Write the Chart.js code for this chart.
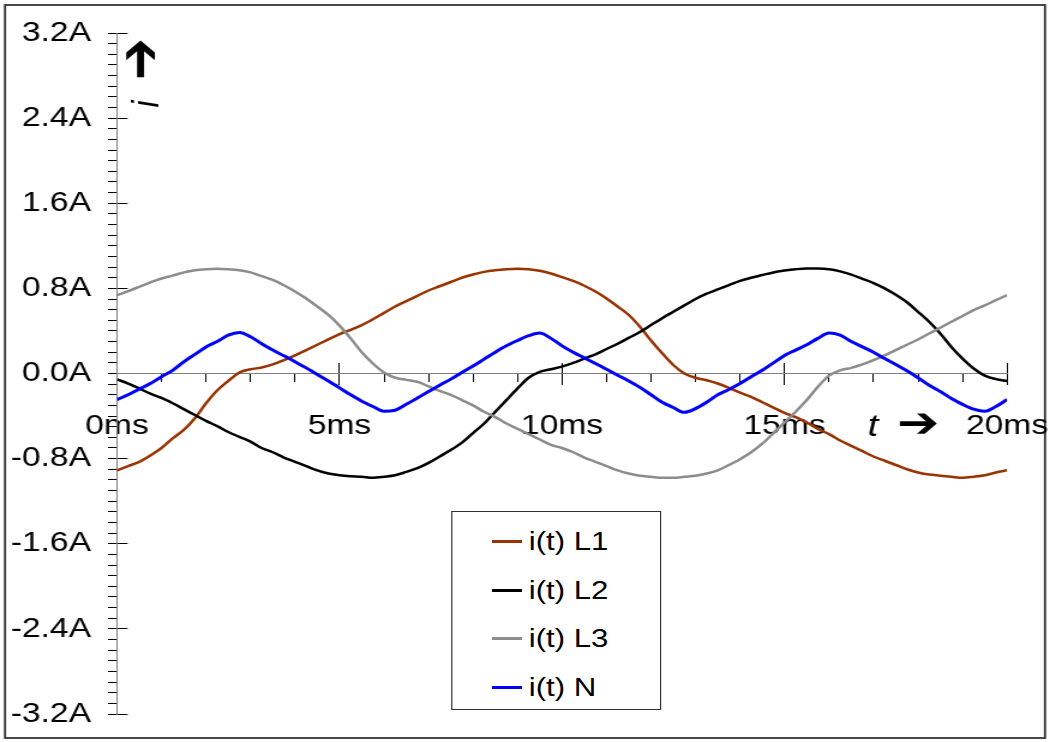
<!DOCTYPE html>
<html>
<head>
<meta charset="utf-8">
<title>Ströme L1, L2, L3 und N</title>
<script src="https://cdn.jsdelivr.net/npm/chart.js@4.4.1/dist/chart.umd.min.js"></script>
<style>
  html, body { margin: 0; padding: 0; background: #fff; overflow: hidden; }
  /* the figure is drawn narrow and widened, which gives the broad lettering */
  #stage { position: relative; width: 875px; height: 742px; transform-origin: 0 0; }
  #legend {
    position: absolute; left: 375.6px; top: 510.5px; width: 175.5px; height: 199px;
    box-sizing: border-box; border: 1px solid #333; background: #fff;
    font-family: "Liberation Sans", Arial, sans-serif; font-size: 26px; color: #000;
  }
  .legend-item { position: absolute; left: 0; height: 30px; display: flex; align-items: center; white-space: nowrap; }
  .legend-line { width: 25px; height: 3px; margin-left: 33px; margin-right: 6px; }
</style>
</head>
<body>
<div id="stage">
  <canvas id="chart"></canvas>
  <div id="legend"></div>
</div>
<script>
// time axis in ms (one period, 50 Hz)
const timeMs = [
  0, 0.25, 0.5, 0.75, 1, 1.25, 1.5, 1.75, 2, 2.25, 2.5, 2.75, 3, 3.25, 3.5, 3.75,
  4, 4.25, 4.5, 4.75, 5, 5.25, 5.5, 5.75, 6, 6.25, 6.5, 6.75, 7, 7.25, 7.5, 7.75,
  8, 8.25, 8.5, 8.75, 9, 9.25, 9.5, 9.75, 10, 10.25, 10.5, 10.75, 11, 11.25, 11.5, 11.75,
  12, 12.25, 12.5, 12.75, 13, 13.25, 13.5, 13.75, 14, 14.25, 14.5, 14.75, 15, 15.25, 15.5, 15.75,
  16, 16.25, 16.5, 16.75, 17, 17.25, 17.5, 17.75, 18, 18.25, 18.5, 18.75, 19, 19.25, 19.5, 19.75, 20
];

// currents in A
const currentL1 = [
  -0.91, -0.87, -0.83, -0.77, -0.70, -0.61, -0.53, -0.42, -0.28, -0.16, -0.07, 0.01, 0.04, 0.056, 0.085, 0.125,
  0.17, 0.22, 0.27, 0.32, 0.37, 0.41, 0.455, 0.51, 0.57, 0.63, 0.68, 0.73, 0.78, 0.82, 0.86, 0.90,
  0.93, 0.955, 0.97, 0.98, 0.985, 0.98, 0.965, 0.94, 0.905, 0.87, 0.825, 0.77, 0.705, 0.63, 0.55, 0.44,
  0.31, 0.19, 0.08, 0.0, -0.04, -0.063, -0.094, -0.135, -0.18, -0.22, -0.27, -0.32, -0.37, -0.41, -0.46, -0.52,
  -0.57, -0.63, -0.68, -0.73, -0.78, -0.82, -0.86, -0.90, -0.93, -0.95, -0.96, -0.97, -0.98, -0.97, -0.956, -0.93, -0.91
];

const currentL2 = [
  -0.056, -0.094, -0.14, -0.19, -0.23, -0.28, -0.335, -0.39, -0.445, -0.495, -0.55, -0.595, -0.64, -0.70, -0.74, -0.79,
  -0.83, -0.87, -0.91, -0.94, -0.956, -0.965, -0.97, -0.98, -0.97, -0.956, -0.925, -0.89, -0.84, -0.78, -0.72, -0.65,
  -0.56, -0.47, -0.36, -0.25, -0.14, -0.04, 0.016, 0.04, 0.065, 0.10, 0.14, 0.18, 0.23, 0.28, 0.335, 0.39,
  0.455, 0.52, 0.58, 0.64, 0.70, 0.75, 0.79, 0.83, 0.87, 0.90, 0.925, 0.95, 0.967, 0.98, 0.987, 0.987,
  0.98, 0.96, 0.93, 0.89, 0.85, 0.80, 0.74, 0.67, 0.58, 0.486, 0.376, 0.25, 0.14, 0.047, -0.02, -0.053, -0.07
];

const currentL3 = [
  0.737, 0.774, 0.815, 0.856, 0.893, 0.92, 0.95, 0.97, 0.98, 0.985, 0.98, 0.97, 0.95, 0.915, 0.88, 0.83,
  0.77, 0.705, 0.63, 0.55, 0.45, 0.33, 0.20, 0.094, 0.01, -0.04, -0.06, -0.078, -0.12, -0.163, -0.20, -0.25,
  -0.30, -0.36, -0.41, -0.47, -0.52, -0.57, -0.62, -0.67, -0.70, -0.74, -0.79, -0.83, -0.87, -0.91, -0.94, -0.96,
  -0.97, -0.98, -0.98, -0.97, -0.96, -0.94, -0.91, -0.86, -0.805, -0.74, -0.66, -0.56, -0.46, -0.36, -0.25, -0.125,
  -0.02, 0.03, 0.053, 0.085, 0.125, 0.17, 0.22, 0.27, 0.32, 0.376, 0.43, 0.486, 0.54, 0.596, 0.64, 0.69, 0.737
];

const currentN = [
  -0.245, -0.20, -0.147, -0.094, -0.03, 0.03, 0.11, 0.18, 0.25, 0.30, 0.36, 0.385, 0.345, 0.28, 0.22, 0.166,
  0.11, 0.053, -0.01, -0.07, -0.135, -0.20, -0.26, -0.31, -0.355, -0.345, -0.29, -0.23, -0.17, -0.11, -0.053, 0.01,
  0.07, 0.135, 0.20, 0.26, 0.31, 0.355, 0.38, 0.33, 0.26, 0.20, 0.147, 0.094, 0.04, -0.016, -0.07, -0.13,
  -0.20, -0.27, -0.32, -0.365, -0.33, -0.27, -0.20, -0.15, -0.094, -0.03, 0.03, 0.10, 0.17, 0.22, 0.27, 0.33,
  0.38, 0.36, 0.30, 0.25, 0.20, 0.14, 0.085, 0.025, -0.04, -0.11, -0.17, -0.235, -0.29, -0.335, -0.355, -0.31, -0.245
];

const seriesNames = ['i(t) L1', 'i(t) L2', 'i(t) L3', 'i(t) N'];
const seriesColors = ['#993300', '#000000', '#8c8c8c', '#0000ff'];

// axis ticks
const yMajorStep = 0.8;   // labelled ticks -3.2A ... 3.2A
const yMinorStep = 0.1;
const xMajorStep = 5;     // labelled ticks 0ms ... 20ms
const xMinorStep = 1;

const FONT = '"Liberation Sans", Arial, sans-serif';
const STRETCH = 1.2;      // horizontal widening of the whole figure
const sx = (px) => px / STRETCH;

document.getElementById('stage').style.transform = `scale(${STRETCH}, 1)`;

function toPoints(values) {
  return timeMs.map((t, i) => ({ x: t, y: values[i] }));
}

function isMultiple(v, step) {
  const q = v / step;
  return Math.abs(q - Math.round(q)) < 1e-6;
}

// white page with a thin frame around the whole figure
const framePlugin = {
  id: 'frame',
  beforeDraw(chart) {
    const { ctx, width, height } = chart;
    ctx.save();
    ctx.fillStyle = '#fff';
    ctx.fillRect(0, 0, width, height);
    ctx.strokeStyle = '#333';
    ctx.lineWidth = 1.8;
    ctx.strokeRect(sx(5), 5, width - sx(10), height - 9);
    ctx.restore();
  }
};

// axis symbols: "i" with arrow up, "t" with arrow right
const axisSymbols = {
  id: 'axisSymbols',
  afterDraw(chart) {
    const { ctx, chartArea, scales } = chart;
    const x0 = scales.x.getPixelForValue(0);
    const y0 = scales.y.getPixelForValue(0);
    ctx.save();
    ctx.fillStyle = '#000';
    ctx.textAlign = 'center';
    ctx.textBaseline = 'middle';

    ctx.save();
    ctx.translate(x0 + sx(27), chartArea.top + 26);
    ctx.rotate(-Math.PI / 2);
    ctx.font = 'bold 50px "DejaVu Sans"';
    ctx.fillText('\u2794', 0, 0);
    ctx.restore();

    ctx.save();
    ctx.translate(x0 + sx(31), chartArea.top + 71);
    ctx.rotate(-Math.PI / 2);
    ctx.font = 'italic 32px ' + FONT;
    ctx.fillText('i', 0, 0);
    ctx.restore();

    ctx.font = 'italic 32px ' + FONT;
    ctx.fillText('t', chartArea.right - sx(134), y0 + 54);
    ctx.font = 'bold 42px "DejaVu Sans"';
    ctx.fillText('\u2794', chartArea.right - sx(89), y0 + 53);
    ctx.restore();
  }
};

function buildLegend(chart) {
  const box = document.getElementById('legend');
  box.innerHTML = '';
  const tops = [15, 64, 112, 161];
  chart.data.datasets.forEach((ds, i) => {
    const item = document.createElement('div');
    item.className = 'legend-item';
    item.style.top = tops[i] + 'px';
    item.innerHTML = `<span class="legend-line" style="background:${ds.borderColor}"></span><span>${ds.label}</span>`;
    box.appendChild(item);
  });
}

const seriesValues = [currentL1, currentL2, currentL3, currentN];

const chart = new Chart(document.getElementById('chart'), {
  type: 'line',
  data: {
    datasets: seriesValues.map((values, i) => ({
      label: seriesNames[i],
      data: toPoints(values),
      borderColor: seriesColors[i],
      backgroundColor: seriesColors[i],
      borderWidth: i === 3 ? 3 : 2.5,
      pointRadius: 0,
      fill: false,
      cubicInterpolationMode: 'monotone',
      xAxisID: 'x',
      yAxisID: 'y',
      order: 4 - i
    }))
  },
  options: {
    responsive: true,
    maintainAspectRatio: false,
    animation: false,
    layout: { padding: { left: 0, right: 875 - sx(1007), top: 33, bottom: 28 } },
    plugins: {
      legend: { display: false },
      tooltip: { enabled: false }
    },
    scales: {
      x: {
        type: 'linear',
        position: { y: 0 },
        min: 0,
        max: 20,
        afterFit: (scale) => { scale.paddingLeft = 0; scale.paddingRight = 0; },
        ticks: {
          stepSize: xMinorStep,
          autoSkip: false,
          maxRotation: 0,
          padding: 28,
          color: '#000',
          font: { family: FONT, size: 28 },
          callback: (v) => (isMultiple(v, xMajorStep) ? Math.round(v) + 'ms' : '')
        },
        grid: { drawOnChartArea: false, tickLength: 8, color: '#000', tickWidth: 1 },
        border: { display: true, color: '#808080', width: 1 }
      },
      // long ticks at every 5 ms, above and below the time axis
      xMajorIn: {
        type: 'linear',
        axis: 'x',
        position: { y: 0 },
        min: 0,
        max: 20,
        ticks: { display: false, stepSize: xMajorStep },
        grid: { drawOnChartArea: false, tickLength: -11, color: '#000' },
        border: { display: false }
      },
      xMajorOut: {
        type: 'linear',
        axis: 'x',
        position: { y: 0 },
        min: 0,
        max: 20,
        ticks: { display: false, stepSize: xMajorStep },
        grid: { drawOnChartArea: false, tickLength: 11, color: '#000' },
        border: { display: false }
      },
      y: {
        type: 'linear',
        position: 'left',
        min: -3.2,
        max: 3.2,
        afterFit: (scale) => {
          scale.width = sx(117);
          scale.paddingTop = 0;
          scale.paddingBottom = 0;
        },
        ticks: {
          stepSize: yMinorStep,
          autoSkip: false,
          padding: sx(117 - 9 - 91),
          color: '#000',
          font: { family: FONT, size: 28 },
          callback: (v) => {
            if (!isMultiple(v, yMajorStep)) return '';
            const n = Math.abs(v) < 1e-9 ? 0 : v;
            return n.toFixed(1) + 'A';
          }
        },
        grid: { drawOnChartArea: false, tickLength: sx(9), color: '#000' },
        border: { display: true, color: '#808080', width: 1 }
      },
      // long ticks at every 0.8 A reach into the plot
      yMajorIn: {
        type: 'linear',
        axis: 'y',
        position: { x: 0 },
        min: -3.2,
        max: 3.2,
        ticks: { display: false, stepSize: yMajorStep },
        grid: { drawOnChartArea: false, tickLength: -sx(10), color: '#000' },
        border: { display: false }
      }
    }
  },
  plugins: [framePlugin, axisSymbols]
});

buildLegend(chart);
</script>
</body>
</html>
